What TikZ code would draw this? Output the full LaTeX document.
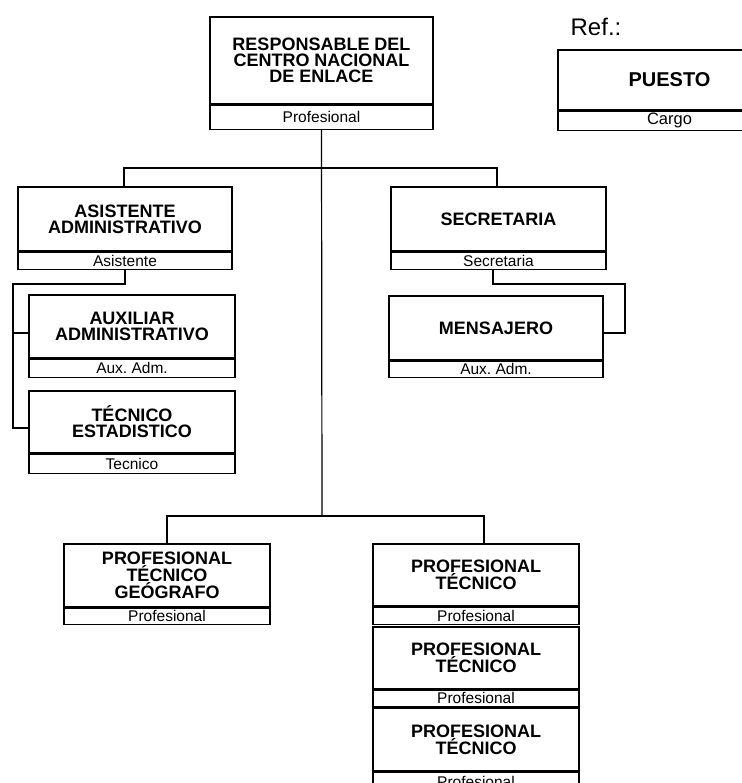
\documentclass[tikz,border=0pt]{standalone}
\usepackage{fontspec}
\setmainfont{Liberation Sans}
\usepackage{tikz}
\usetikzlibrary{positioning, calc}
\tikzset{
  puestobox/.style={
    draw, line width=1.2pt, align=center, fill=white,
    font=\bfseries\fontsize{18}{16}\selectfont,
    minimum width=206pt, minimum height=63pt, inner sep=2pt
  },
  cargobox/.style={
    draw, line width=1.2pt, align=center, fill=white,
    font=\fontsize{15.5}{15.5}\selectfont,
    minimum width=206pt, minimum height=17pt, inner sep=0pt, anchor=north
  },
  linea/.style={line width=1.2pt},
}

\begin{document}
\begin{tikzpicture}[x=1pt, y=-1pt]
  \useasboundingbox (0,0) rectangle (741,783);

  % === Referencia ===
  \node[font=\fontsize{24}{24}\selectfont] (reftxt) at (596,27) {Ref.:};
  \node[puestobox, minimum width=223pt, minimum height=60pt, font=\bfseries\fontsize{20}{20}\selectfont] (ref) at (669.5,80) {PUESTO};
  \node[cargobox, minimum width=223pt, minimum height=19pt, font=\fontsize{16.5}{16.5}\selectfont] (ref-c) at (ref.south) {Cargo};

  % === Responsable ===
  \node[puestobox, minimum width=223pt, minimum height=87pt] (resp) at (321.5,60.5)
    {RESPONSABLE DEL\\CENTRO NACIONAL\\DE ENLACE};
  \node[cargobox, minimum width=223pt, minimum height=24pt] (resp-c) at (resp.south) {Profesional};

  % === Asistente / Secretaria ===
  \node[puestobox, minimum width=214pt, minimum height=64pt] (asis) at (125,219)
    {ASISTENTE\\ADMINISTRATIVO};
  \node[cargobox, minimum width=214pt] (asis-c) at (asis.south) {Asistente};

  \node[puestobox, minimum width=215pt, minimum height=64pt] (secr) at (498.5,219) {SECRETARIA};
  \node[cargobox, minimum width=215pt] (secr-c) at (secr.south) {Secretaria};

  % === Dependientes del asistente ===
  \node[puestobox] (aux) at (132,326.5) {AUXILIAR\\ADMINISTRATIVO};
  \node[cargobox, minimum height=18pt] (aux-c) at (aux.south) {Aux.\ Adm.};

  \node[puestobox, minimum height=62pt] (tecest) at (132,422) {TÉCNICO\\ESTADISTICO};
  \node[cargobox, minimum height=19pt] (tecest-c) at (tecest.south) {Tecnico};

  % === Dependiente de secretaria ===
  \node[puestobox, minimum width=214pt, minimum height=64pt] (mens) at (496,328) {MENSAJERO};
  \node[cargobox, minimum width=214pt, minimum height=16pt] (mens-c) at (mens.south) {Aux.\ Adm.};

  % === Profesionales ===
  \node[puestobox] (geog) at (167,575.5) {PROFESIONAL\\TÉCNICO\\GEÓGRAFO};
  \node[cargobox, minimum height=16pt] (geog-c) at (geog.south) {Profesional};

  \node[puestobox, minimum height=62pt] (prof1) at (476,575) {PROFESIONAL\\TÉCNICO};
  \node[cargobox] (prof1-c) at (prof1.south) {Profesional};
  \node[puestobox, minimum height=62pt] (prof2) at (476,658) {PROFESIONAL\\TÉCNICO};
  \node[cargobox, minimum height=16pt] (prof2-c) at (prof2.south) {Profesional};
  \node[puestobox] (prof3) at (476,739.5) {PROFESIONAL\\TÉCNICO};
  \node[cargobox, minimum height=19pt] (prof3-c) at (prof3.south) {Profesional};

  % === Conectores ===
  \coordinate (barra-sup) at (322,168);
  \coordinate (barra-inf) at (322,516);
  \coordinate (asis-izq) at (13,284);
  \coordinate (secr-der) at (625,284);

  \draw[linea] (resp-c.south) -- (barra-inf);
  \draw[linea] ([xshift=-1pt]asis.north) |- (barra-sup) -| ([xshift=-1.5pt]secr.north);
  \draw[linea] (geog.north) |- (barra-inf) -| ([xshift=8pt]prof1.north);

  \draw[linea] (asis-c.south) |- (asis-izq) |- ([yshift=-6pt]tecest.west);
  \draw[linea] ([yshift=-6.5pt]aux.west) -| (asis-izq);
  \draw[linea] ([xshift=-5.5pt]secr-c.south) |- (secr-der) |- ([yshift=-5pt]mens.east);

\end{tikzpicture}
\end{document}
